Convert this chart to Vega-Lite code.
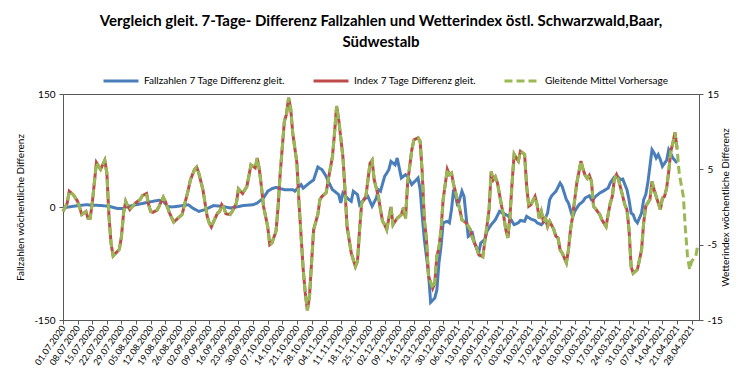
{
  "$schema": "https://vega.github.io/schema/vega-lite/v6.json",
  "width": 636,
  "height": 226,
  "autosize": {"type": "none"},
  "padding": {"left": 63, "top": 94, "right": 57, "bottom": 63},
  "background": "white",
  "config": {
    "font": "Lato",
    "view": {"stroke": "#595959", "strokeWidth": 1},
    "axis": {"grid": false, "labelColor": "#000", "titleColor": "#000", "domainColor": "#595959", "tickColor": "#595959", "labelFont": "Lato", "titleFont": "Lato", "titleFontWeight": "normal"},
    "legend": {"labelFont": "Lato", "labelColor": "#000"}
  },
  "title": {
    "text": ["Vergleich gleit. 7-Tage- Differenz Fallzahlen und Wetterindex östl. Schwarzwald,Baar,", "Südwestalb"],
    "font": "Lato", "fontSize": 15, "fontWeight": "bold", "color": "#000",
    "anchor": "middle", "frame": "group", "offset": 12, "lineHeight": 21
  },
  "datasets": {
    "fall": [
      {"d":"2020-07-01","v":-1},{"d":"2020-07-06","v":1},{"d":"2020-07-12","v":3},{"d":"2020-07-19","v":2},{"d":"2020-07-23","v":1},{"d":"2020-07-27","v":-2},{"d":"2020-07-30","v":-2},{"d":"2020-07-31","v":0},{"d":"2020-08-05","v":3},{"d":"2020-08-13","v":7.5},{"d":"2020-08-16","v":9},{"d":"2020-08-18","v":8},{"d":"2020-08-20","v":1},{"d":"2020-08-22","v":0},{"d":"2020-08-25","v":1},{"d":"2020-08-30","v":3},{"d":"2020-09-01","v":-1.3},{"d":"2020-09-04","v":-5.8},{"d":"2020-09-07","v":-3.5},{"d":"2020-09-11","v":1.8},{"d":"2020-09-15","v":1},{"d":"2020-09-19","v":-1.3},{"d":"2020-09-22","v":0},{"d":"2020-09-25","v":1.8},{"d":"2020-09-30","v":3},{"d":"2020-10-02","v":5.3},{"d":"2020-10-05","v":12},{"d":"2020-10-07","v":20.8},{"d":"2020-10-09","v":24.3},{"d":"2020-10-11","v":26},{"d":"2020-10-12","v":25},{"d":"2020-10-15","v":23},{"d":"2020-10-19","v":23},{"d":"2020-10-20","v":21},{"d":"2020-10-23","v":29.6},{"d":"2020-10-24","v":25},{"d":"2020-10-27","v":32},{"d":"2020-10-29","v":36},{"d":"2020-10-31","v":53},{"d":"2020-11-02","v":49.6},{"d":"2020-11-04","v":40.7},{"d":"2020-11-05","v":34},{"d":"2020-11-07","v":23},{"d":"2020-11-08","v":21},{"d":"2020-11-10","v":16.4},{"d":"2020-11-11","v":5.3},{"d":"2020-11-12","v":18.6},{"d":"2020-11-14","v":12},{"d":"2020-11-16","v":7.5},{"d":"2020-11-17","v":21},{"d":"2020-11-19","v":16.4},{"d":"2020-11-20","v":3},{"d":"2020-11-22","v":9.7},{"d":"2020-11-24","v":14},{"d":"2020-11-26","v":1},{"d":"2020-11-28","v":12},{"d":"2020-11-29","v":23},{"d":"2020-11-30","v":21},{"d":"2020-12-02","v":40.7},{"d":"2020-12-03","v":45},{"d":"2020-12-04","v":49.6},{"d":"2020-12-05","v":60.6},{"d":"2020-12-07","v":56},{"d":"2020-12-08","v":65},{"d":"2020-12-10","v":38.5},{"d":"2020-12-12","v":43},{"d":"2020-12-13","v":40.7},{"d":"2020-12-15","v":29.6},{"d":"2020-12-16","v":32.7},{"d":"2020-12-18","v":38.5},{"d":"2020-12-19","v":23},{"d":"2020-12-20","v":-12.4},{"d":"2020-12-21","v":-43},{"d":"2020-12-23","v":-87.6},{"d":"2020-12-24","v":-126.5},{"d":"2020-12-26","v":-121},{"d":"2020-12-27","v":-110},{"d":"2020-12-28","v":-74},{"d":"2020-12-29","v":-52},{"d":"2020-12-30","v":-21},{"d":"2021-01-01","v":-19},{"d":"2021-01-02","v":-21},{"d":"2021-01-03","v":-3.5},{"d":"2021-01-04","v":23},{"d":"2021-01-05","v":14},{"d":"2021-01-06","v":1},{"d":"2021-01-08","v":21},{"d":"2021-01-09","v":14},{"d":"2021-01-10","v":-12.4},{"d":"2021-01-11","v":-39},{"d":"2021-01-13","v":-34.5},{"d":"2021-01-14","v":-47.8},{"d":"2021-01-16","v":-61},{"d":"2021-01-17","v":-47.8},{"d":"2021-01-19","v":-43},{"d":"2021-01-20","v":-32},{"d":"2021-01-22","v":-23.5},{"d":"2021-01-24","v":-17},{"d":"2021-01-26","v":-5.8},{"d":"2021-01-28","v":-8.8},{"d":"2021-01-30","v":-11.5},{"d":"2021-01-31","v":-14.6},{"d":"2021-02-02","v":-23.5},{"d":"2021-02-04","v":-21},{"d":"2021-02-05","v":-17.7},{"d":"2021-02-07","v":-19},{"d":"2021-02-08","v":-12.4},{"d":"2021-02-10","v":-16},{"d":"2021-02-12","v":-18},{"d":"2021-02-13","v":-21},{"d":"2021-02-15","v":-23.5},{"d":"2021-02-16","v":-20.4},{"d":"2021-02-18","v":-8},{"d":"2021-02-19","v":9.7},{"d":"2021-02-20","v":15},{"d":"2021-02-22","v":20.8},{"d":"2021-02-24","v":31.9},{"d":"2021-02-25","v":27.4},{"d":"2021-02-27","v":9.7},{"d":"2021-02-28","v":5.3},{"d":"2021-03-02","v":-13.3},{"d":"2021-03-03","v":-5.8},{"d":"2021-03-05","v":3},{"d":"2021-03-07","v":7.5},{"d":"2021-03-08","v":12},{"d":"2021-03-10","v":15},{"d":"2021-03-11","v":9.7},{"d":"2021-03-12","v":10.6},{"d":"2021-03-13","v":14},{"d":"2021-03-15","v":18.6},{"d":"2021-03-17","v":21.7},{"d":"2021-03-19","v":25},{"d":"2021-03-20","v":32},{"d":"2021-03-22","v":40},{"d":"2021-03-23","v":41.6},{"d":"2021-03-25","v":36.3},{"d":"2021-03-26","v":37},{"d":"2021-03-28","v":23},{"d":"2021-03-29","v":9.7},{"d":"2021-03-30","v":-8},{"d":"2021-03-31","v":-10.2},{"d":"2021-04-01","v":-17.7},{"d":"2021-04-02","v":-21},{"d":"2021-04-04","v":-8},{"d":"2021-04-05","v":9.7},{"d":"2021-04-06","v":16.4},{"d":"2021-04-07","v":32},{"d":"2021-04-08","v":54},{"d":"2021-04-09","v":76},{"d":"2021-04-10","v":71.7},{"d":"2021-04-11","v":65},{"d":"2021-04-12","v":69.5},{"d":"2021-04-13","v":62.8},{"d":"2021-04-14","v":54},{"d":"2021-04-16","v":62},{"d":"2021-04-17","v":76},{"d":"2021-04-18","v":70.8},{"d":"2021-04-19","v":65},{"d":"2021-04-21","v":58.4}
    ],
    "idx": [
      {"d":"2020-07-01","v":-0.6},{"d":"2020-07-03","v":0.5},{"d":"2020-07-04","v":2.1},{"d":"2020-07-06","v":1.6},{"d":"2020-07-08","v":0.75},{"d":"2020-07-09","v":-0.1},{"d":"2020-07-10","v":-1.0},{"d":"2020-07-12","v":-0.6},{"d":"2020-07-13","v":-1.5},{"d":"2020-07-14","v":-1.5},{"d":"2020-07-15","v":0.5},{"d":"2020-07-16","v":3.2},{"d":"2020-07-17","v":5.9},{"d":"2020-07-19","v":5.0},{"d":"2020-07-20","v":5.6},{"d":"2020-07-21","v":6.2},{"d":"2020-07-22","v":4.5},{"d":"2020-07-23","v":-1.2},{"d":"2020-07-24","v":-4.8},{"d":"2020-07-25","v":-6.5},{"d":"2020-07-27","v":-5.9},{"d":"2020-07-28","v":-5.6},{"d":"2020-07-29","v":-3.9},{"d":"2020-07-30","v":-0.8},{"d":"2020-07-31","v":0.75},{"d":"2020-08-01","v":0.1},{"d":"2020-08-02","v":-0.35},{"d":"2020-08-04","v":0.3},{"d":"2020-08-05","v":0.6},{"d":"2020-08-07","v":1.0},{"d":"2020-08-08","v":1.5},{"d":"2020-08-10","v":1.8},{"d":"2020-08-11","v":0.3},{"d":"2020-08-12","v":-0.6},{"d":"2020-08-13","v":-0.7},{"d":"2020-08-15","v":-0.45},{"d":"2020-08-16","v":0.1},{"d":"2020-08-18","v":1.3},{"d":"2020-08-19","v":0.75},{"d":"2020-08-21","v":-0.8},{"d":"2020-08-23","v":-2.0},{"d":"2020-08-25","v":-1.5},{"d":"2020-08-27","v":-1.0},{"d":"2020-08-28","v":0.1},{"d":"2020-08-30","v":2.3},{"d":"2020-08-31","v":3.6},{"d":"2020-09-02","v":5.0},{"d":"2020-09-03","v":5.3},{"d":"2020-09-04","v":4.5},{"d":"2020-09-06","v":2.3},{"d":"2020-09-07","v":0.5},{"d":"2020-09-08","v":-1.2},{"d":"2020-09-09","v":-2.1},{"d":"2020-09-10","v":-2.65},{"d":"2020-09-11","v":-2.0},{"d":"2020-09-13","v":-0.8},{"d":"2020-09-14","v":-0.6},{"d":"2020-09-15","v":0.3},{"d":"2020-09-16","v":-0.1},{"d":"2020-09-17","v":-0.9},{"d":"2020-09-19","v":-1.0},{"d":"2020-09-20","v":-0.6},{"d":"2020-09-22","v":0.5},{"d":"2020-09-23","v":2.4},{"d":"2020-09-25","v":1.8},{"d":"2020-09-27","v":2.7},{"d":"2020-09-28","v":4.1},{"d":"2020-09-29","v":5.6},{"d":"2020-10-01","v":5.2},{"d":"2020-10-02","v":6.5},{"d":"2020-10-03","v":5.0},{"d":"2020-10-04","v":2.7},{"d":"2020-10-05","v":0.1},{"d":"2020-10-07","v":-2.6},{"d":"2020-10-08","v":-5.0},{"d":"2020-10-09","v":-4.8},{"d":"2020-10-11","v":-3.2},{"d":"2020-10-12","v":0.1},{"d":"2020-10-13","v":4.5},{"d":"2020-10-15","v":11.4},{"d":"2020-10-16","v":12.3},{"d":"2020-10-17","v":14.5},{"d":"2020-10-18","v":13.1},{"d":"2020-10-19","v":9.8},{"d":"2020-10-21","v":5.8},{"d":"2020-10-22","v":0.5},{"d":"2020-10-23","v":-3.9},{"d":"2020-10-24","v":-8.3},{"d":"2020-10-25","v":-11.4},{"d":"2020-10-26","v":-13.7},{"d":"2020-10-27","v":-11.9},{"d":"2020-10-28","v":-7.4},{"d":"2020-10-29","v":-3.0},{"d":"2020-10-31","v":-1.0},{"d":"2020-11-01","v":1.0},{"d":"2020-11-02","v":1.4},{"d":"2020-11-04","v":1.9},{"d":"2020-11-05","v":3.6},{"d":"2020-11-07","v":6.7},{"d":"2020-11-08","v":9.8},{"d":"2020-11-09","v":13.4},{"d":"2020-11-10","v":11.6},{"d":"2020-11-12","v":6.7},{"d":"2020-11-13","v":2.3},{"d":"2020-11-14","v":-2.6},{"d":"2020-11-16","v":-6.1},{"d":"2020-11-17","v":-7.0},{"d":"2020-11-18","v":-7.9},{"d":"2020-11-19","v":-7.2},{"d":"2020-11-20","v":-3.0},{"d":"2020-11-21","v":0.5},{"d":"2020-11-23","v":1.4},{"d":"2020-11-24","v":3.6},{"d":"2020-11-25","v":5.8},{"d":"2020-11-26","v":6.2},{"d":"2020-11-27","v":3.6},{"d":"2020-11-29","v":1.4},{"d":"2020-11-30","v":-0.35},{"d":"2020-12-01","v":-1.9},{"d":"2020-12-02","v":-2.35},{"d":"2020-12-03","v":-3.0},{"d":"2020-12-05","v":0.0},{"d":"2020-12-06","v":-2.35},{"d":"2020-12-07","v":-1.9},{"d":"2020-12-08","v":-1.5},{"d":"2020-12-10","v":-1.0},{"d":"2020-12-11","v":-0.1},{"d":"2020-12-12","v":-1.5},{"d":"2020-12-13","v":3.2},{"d":"2020-12-14","v":5.4},{"d":"2020-12-15","v":7.6},{"d":"2020-12-16","v":8.9},{"d":"2020-12-18","v":9.2},{"d":"2020-12-19","v":8.7},{"d":"2020-12-20","v":4.5},{"d":"2020-12-21","v":-1.7},{"d":"2020-12-22","v":-4.3},{"d":"2020-12-23","v":-9.2},{"d":"2020-12-25","v":-10.8},{"d":"2020-12-26","v":-10.1},{"d":"2020-12-27","v":-6.5},{"d":"2020-12-28","v":-5.4},{"d":"2020-12-29","v":-3.0},{"d":"2020-12-30","v":1.0},{"d":"2021-01-01","v":5.0},{"d":"2021-01-02","v":4.3},{"d":"2021-01-03","v":4.5},{"d":"2021-01-04","v":3.0},{"d":"2021-01-05","v":1.9},{"d":"2021-01-07","v":-0.35},{"d":"2021-01-08","v":-1.7},{"d":"2021-01-10","v":-2.1},{"d":"2021-01-12","v":-3.0},{"d":"2021-01-13","v":-4.1},{"d":"2021-01-15","v":-5.4},{"d":"2021-01-16","v":-6.3},{"d":"2021-01-18","v":-6.6},{"d":"2021-01-19","v":-4.5},{"d":"2021-01-20","v":-2.5},{"d":"2021-01-21","v":-0.35},{"d":"2021-01-22","v":4.7},{"d":"2021-01-23","v":3.6},{"d":"2021-01-24","v":4.0},{"d":"2021-01-25","v":3.2},{"d":"2021-01-27","v":0.1},{"d":"2021-01-28","v":-1.2},{"d":"2021-01-29","v":-3.0},{"d":"2021-01-30","v":-4.1},{"d":"2021-01-31","v":-1.2},{"d":"2021-02-01","v":3.2},{"d":"2021-02-02","v":7.0},{"d":"2021-02-03","v":6.5},{"d":"2021-02-04","v":6.1},{"d":"2021-02-05","v":7.4},{"d":"2021-02-07","v":7.0},{"d":"2021-02-08","v":2.7},{"d":"2021-02-09","v":0.1},{"d":"2021-02-10","v":0.3},{"d":"2021-02-12","v":1.4},{"d":"2021-02-13","v":0.3},{"d":"2021-02-14","v":-1.5},{"d":"2021-02-15","v":-0.6},{"d":"2021-02-16","v":-1.9},{"d":"2021-02-17","v":-1.5},{"d":"2021-02-18","v":-2.6},{"d":"2021-02-19","v":-1.9},{"d":"2021-02-21","v":-3.0},{"d":"2021-02-22","v":-3.9},{"d":"2021-02-23","v":-4.1},{"d":"2021-02-24","v":-5.7},{"d":"2021-02-25","v":-6.1},{"d":"2021-02-27","v":-7.4},{"d":"2021-02-28","v":-5.7},{"d":"2021-03-01","v":-3.0},{"d":"2021-03-02","v":-1.2},{"d":"2021-03-03","v":1.0},{"d":"2021-03-04","v":3.2},{"d":"2021-03-06","v":6.1},{"d":"2021-03-07","v":5.0},{"d":"2021-03-08","v":4.2},{"d":"2021-03-09","v":3.8},{"d":"2021-03-10","v":4.2},{"d":"2021-03-11","v":3.4},{"d":"2021-03-12","v":0.1},{"d":"2021-03-13","v":-0.25},{"d":"2021-03-15","v":-1.0},{"d":"2021-03-16","v":-1.7},{"d":"2021-03-18","v":-2.6},{"d":"2021-03-19","v":-1.0},{"d":"2021-03-20","v":0.5},{"d":"2021-03-21","v":1.4},{"d":"2021-03-22","v":3.8},{"d":"2021-03-23","v":4.3},{"d":"2021-03-24","v":3.6},{"d":"2021-03-26","v":1.4},{"d":"2021-03-27","v":0.3},{"d":"2021-03-28","v":-0.35},{"d":"2021-03-29","v":-3.0},{"d":"2021-03-30","v":-7.9},{"d":"2021-03-31","v":-8.8},{"d":"2021-04-02","v":-8.3},{"d":"2021-04-03","v":-7.0},{"d":"2021-04-04","v":-5.7},{"d":"2021-04-05","v":-2.1},{"d":"2021-04-06","v":0.1},{"d":"2021-04-08","v":1.0},{"d":"2021-04-09","v":3.4},{"d":"2021-04-10","v":2.3},{"d":"2021-04-11","v":1.4},{"d":"2021-04-13","v":-0.35},{"d":"2021-04-14","v":1.2},{"d":"2021-04-15","v":1.4},{"d":"2021-04-16","v":2.5},{"d":"2021-04-17","v":4.7},{"d":"2021-04-18","v":7.4},{"d":"2021-04-19","v":8.5},{"d":"2021-04-20","v":9.9},{"d":"2021-04-21","v":7.8}
    ],
    "fc": [
      {"d":"2020-07-01","v":-0.6},{"d":"2020-07-03","v":0.5},{"d":"2020-07-04","v":2.1},{"d":"2020-07-06","v":1.6},{"d":"2020-07-08","v":0.75},{"d":"2020-07-09","v":-0.1},{"d":"2020-07-10","v":-1.0},{"d":"2020-07-12","v":-0.6},{"d":"2020-07-13","v":-1.5},{"d":"2020-07-14","v":-1.5},{"d":"2020-07-15","v":0.5},{"d":"2020-07-16","v":3.2},{"d":"2020-07-17","v":5.9},{"d":"2020-07-19","v":5.0},{"d":"2020-07-20","v":5.6},{"d":"2020-07-21","v":6.2},{"d":"2020-07-22","v":4.5},{"d":"2020-07-23","v":-1.2},{"d":"2020-07-24","v":-4.8},{"d":"2020-07-25","v":-6.5},{"d":"2020-07-27","v":-5.9},{"d":"2020-07-28","v":-5.6},{"d":"2020-07-29","v":-3.9},{"d":"2020-07-30","v":-0.8},{"d":"2020-07-31","v":0.75},{"d":"2020-08-01","v":0.1},{"d":"2020-08-02","v":-0.35},{"d":"2020-08-04","v":0.3},{"d":"2020-08-05","v":0.6},{"d":"2020-08-07","v":1.0},{"d":"2020-08-08","v":1.5},{"d":"2020-08-10","v":1.8},{"d":"2020-08-11","v":0.3},{"d":"2020-08-12","v":-0.6},{"d":"2020-08-13","v":-0.7},{"d":"2020-08-15","v":-0.45},{"d":"2020-08-16","v":0.1},{"d":"2020-08-18","v":1.3},{"d":"2020-08-19","v":0.75},{"d":"2020-08-21","v":-0.8},{"d":"2020-08-23","v":-2.0},{"d":"2020-08-25","v":-1.5},{"d":"2020-08-27","v":-1.0},{"d":"2020-08-28","v":0.1},{"d":"2020-08-30","v":2.3},{"d":"2020-08-31","v":3.6},{"d":"2020-09-02","v":5.0},{"d":"2020-09-03","v":5.3},{"d":"2020-09-04","v":4.5},{"d":"2020-09-06","v":2.3},{"d":"2020-09-07","v":0.5},{"d":"2020-09-08","v":-1.2},{"d":"2020-09-09","v":-2.1},{"d":"2020-09-10","v":-2.65},{"d":"2020-09-11","v":-2.0},{"d":"2020-09-13","v":-0.8},{"d":"2020-09-14","v":-0.6},{"d":"2020-09-15","v":0.3},{"d":"2020-09-16","v":-0.1},{"d":"2020-09-17","v":-0.9},{"d":"2020-09-19","v":-1.0},{"d":"2020-09-20","v":-0.6},{"d":"2020-09-22","v":0.5},{"d":"2020-09-23","v":2.4},{"d":"2020-09-25","v":1.8},{"d":"2020-09-27","v":2.7},{"d":"2020-09-28","v":4.1},{"d":"2020-09-29","v":5.6},{"d":"2020-10-01","v":5.2},{"d":"2020-10-02","v":6.5},{"d":"2020-10-03","v":5.0},{"d":"2020-10-04","v":2.7},{"d":"2020-10-05","v":0.1},{"d":"2020-10-07","v":-2.6},{"d":"2020-10-08","v":-5.0},{"d":"2020-10-09","v":-4.8},{"d":"2020-10-11","v":-3.2},{"d":"2020-10-12","v":0.1},{"d":"2020-10-13","v":4.5},{"d":"2020-10-15","v":11.4},{"d":"2020-10-16","v":12.3},{"d":"2020-10-17","v":14.5},{"d":"2020-10-18","v":13.1},{"d":"2020-10-19","v":9.8},{"d":"2020-10-21","v":5.8},{"d":"2020-10-22","v":0.5},{"d":"2020-10-23","v":-3.9},{"d":"2020-10-24","v":-8.3},{"d":"2020-10-25","v":-11.4},{"d":"2020-10-26","v":-13.7},{"d":"2020-10-27","v":-11.9},{"d":"2020-10-28","v":-7.4},{"d":"2020-10-29","v":-3.0},{"d":"2020-10-31","v":-1.0},{"d":"2020-11-01","v":1.0},{"d":"2020-11-02","v":1.4},{"d":"2020-11-04","v":1.9},{"d":"2020-11-05","v":3.6},{"d":"2020-11-07","v":6.7},{"d":"2020-11-08","v":9.8},{"d":"2020-11-09","v":13.4},{"d":"2020-11-10","v":11.6},{"d":"2020-11-12","v":6.7},{"d":"2020-11-13","v":2.3},{"d":"2020-11-14","v":-2.6},{"d":"2020-11-16","v":-6.1},{"d":"2020-11-17","v":-7.0},{"d":"2020-11-18","v":-7.9},{"d":"2020-11-19","v":-7.2},{"d":"2020-11-20","v":-3.0},{"d":"2020-11-21","v":0.5},{"d":"2020-11-23","v":1.4},{"d":"2020-11-24","v":3.6},{"d":"2020-11-25","v":5.8},{"d":"2020-11-26","v":6.2},{"d":"2020-11-27","v":3.6},{"d":"2020-11-29","v":1.4},{"d":"2020-11-30","v":-0.35},{"d":"2020-12-01","v":-1.9},{"d":"2020-12-02","v":-2.35},{"d":"2020-12-03","v":-3.0},{"d":"2020-12-05","v":0.0},{"d":"2020-12-06","v":-2.35},{"d":"2020-12-07","v":-1.9},{"d":"2020-12-08","v":-1.5},{"d":"2020-12-10","v":-1.0},{"d":"2020-12-11","v":-0.1},{"d":"2020-12-12","v":-1.5},{"d":"2020-12-13","v":3.2},{"d":"2020-12-14","v":5.4},{"d":"2020-12-15","v":7.6},{"d":"2020-12-16","v":8.9},{"d":"2020-12-18","v":9.2},{"d":"2020-12-19","v":8.7},{"d":"2020-12-20","v":4.5},{"d":"2020-12-21","v":-1.7},{"d":"2020-12-22","v":-4.3},{"d":"2020-12-23","v":-9.2},{"d":"2020-12-25","v":-10.8},{"d":"2020-12-26","v":-10.1},{"d":"2020-12-27","v":-6.5},{"d":"2020-12-28","v":-5.4},{"d":"2020-12-29","v":-3.0},{"d":"2020-12-30","v":1.0},{"d":"2021-01-01","v":5.0},{"d":"2021-01-02","v":4.3},{"d":"2021-01-03","v":4.5},{"d":"2021-01-04","v":3.0},{"d":"2021-01-05","v":1.9},{"d":"2021-01-07","v":-0.35},{"d":"2021-01-08","v":-1.7},{"d":"2021-01-10","v":-2.1},{"d":"2021-01-12","v":-3.0},{"d":"2021-01-13","v":-4.1},{"d":"2021-01-15","v":-5.4},{"d":"2021-01-16","v":-6.3},{"d":"2021-01-18","v":-6.6},{"d":"2021-01-19","v":-4.5},{"d":"2021-01-20","v":-2.5},{"d":"2021-01-21","v":-0.35},{"d":"2021-01-22","v":4.7},{"d":"2021-01-23","v":3.6},{"d":"2021-01-24","v":4.0},{"d":"2021-01-25","v":3.2},{"d":"2021-01-27","v":0.1},{"d":"2021-01-28","v":-1.2},{"d":"2021-01-29","v":-3.0},{"d":"2021-01-30","v":-4.1},{"d":"2021-01-31","v":-1.2},{"d":"2021-02-01","v":3.2},{"d":"2021-02-02","v":7.0},{"d":"2021-02-03","v":6.5},{"d":"2021-02-04","v":6.1},{"d":"2021-02-05","v":7.4},{"d":"2021-02-07","v":7.0},{"d":"2021-02-08","v":2.7},{"d":"2021-02-09","v":0.1},{"d":"2021-02-10","v":0.3},{"d":"2021-02-12","v":1.4},{"d":"2021-02-13","v":0.3},{"d":"2021-02-14","v":-1.5},{"d":"2021-02-15","v":-0.6},{"d":"2021-02-16","v":-1.9},{"d":"2021-02-17","v":-1.5},{"d":"2021-02-18","v":-2.6},{"d":"2021-02-19","v":-1.9},{"d":"2021-02-21","v":-3.0},{"d":"2021-02-22","v":-3.9},{"d":"2021-02-23","v":-4.1},{"d":"2021-02-24","v":-5.7},{"d":"2021-02-25","v":-6.1},{"d":"2021-02-27","v":-7.4},{"d":"2021-02-28","v":-5.7},{"d":"2021-03-01","v":-3.0},{"d":"2021-03-02","v":-1.2},{"d":"2021-03-03","v":1.0},{"d":"2021-03-04","v":3.2},{"d":"2021-03-06","v":6.1},{"d":"2021-03-07","v":5.0},{"d":"2021-03-08","v":4.2},{"d":"2021-03-09","v":3.8},{"d":"2021-03-10","v":4.2},{"d":"2021-03-11","v":3.4},{"d":"2021-03-12","v":0.1},{"d":"2021-03-13","v":-0.25},{"d":"2021-03-15","v":-1.0},{"d":"2021-03-16","v":-1.7},{"d":"2021-03-18","v":-2.6},{"d":"2021-03-19","v":-1.0},{"d":"2021-03-20","v":0.5},{"d":"2021-03-21","v":1.4},{"d":"2021-03-22","v":3.8},{"d":"2021-03-23","v":4.3},{"d":"2021-03-24","v":3.6},{"d":"2021-03-26","v":1.4},{"d":"2021-03-27","v":0.3},{"d":"2021-03-28","v":-0.35},{"d":"2021-03-29","v":-3.0},{"d":"2021-03-30","v":-7.9},{"d":"2021-03-31","v":-8.8},{"d":"2021-04-02","v":-8.3},{"d":"2021-04-03","v":-7.0},{"d":"2021-04-04","v":-5.7},{"d":"2021-04-05","v":-2.1},{"d":"2021-04-06","v":0.1},{"d":"2021-04-08","v":1.0},{"d":"2021-04-09","v":3.4},{"d":"2021-04-10","v":2.3},{"d":"2021-04-11","v":1.4},{"d":"2021-04-13","v":-0.35},{"d":"2021-04-14","v":1.2},{"d":"2021-04-15","v":1.4},{"d":"2021-04-16","v":2.5},{"d":"2021-04-17","v":4.7},{"d":"2021-04-18","v":7.4},{"d":"2021-04-19","v":8.5},{"d":"2021-04-20","v":9.9},{"d":"2021-04-21","v":7.8},{"d":"2021-04-22","v":4.5},{"d":"2021-04-24","v":1.4},{"d":"2021-04-25","v":-3.0},{"d":"2021-04-26","v":-6.5},{"d":"2021-04-27","v":-8.3},{"d":"2021-04-28","v":-7.2},{"d":"2021-04-30","v":-6.5},{"d":"2021-05-01","v":-4.9}
    ]
  },
  "layer": [
    {
      "layer": [
        {
          "mark": {"type": "rule", "color": "#404040", "strokeWidth": 1},
          "encoding": {"y": {"datum": 0, "type": "quantitative"}}
        },
        {
          "data": {"name": "fall", "format": {"parse": {"d": "date:'%Y-%m-%d'"}}},
          "mark": {"type": "line", "strokeWidth": 3, "strokeCap": "butt"},
          "encoding": {
            "x": {
              "field": "d", "type": "temporal", "title": null,
              "scale": {"domain": [{"year": 2020, "month": 7, "date": 1}, {"year": 2021, "month": 5, "date": 1, "hours": 12}]},
              "axis": {
                "values": [
                  {"year":2020,"month":7,"date":1},{"year":2020,"month":7,"date":8},{"year":2020,"month":7,"date":15},{"year":2020,"month":7,"date":22},{"year":2020,"month":7,"date":29},
                  {"year":2020,"month":8,"date":5},{"year":2020,"month":8,"date":12},{"year":2020,"month":8,"date":19},{"year":2020,"month":8,"date":26},
                  {"year":2020,"month":9,"date":2},{"year":2020,"month":9,"date":9},{"year":2020,"month":9,"date":16},{"year":2020,"month":9,"date":23},{"year":2020,"month":9,"date":30},
                  {"year":2020,"month":10,"date":7},{"year":2020,"month":10,"date":14},{"year":2020,"month":10,"date":21},{"year":2020,"month":10,"date":28},
                  {"year":2020,"month":11,"date":4},{"year":2020,"month":11,"date":11},{"year":2020,"month":11,"date":18},{"year":2020,"month":11,"date":25},
                  {"year":2020,"month":12,"date":2},{"year":2020,"month":12,"date":9},{"year":2020,"month":12,"date":16},{"year":2020,"month":12,"date":23},{"year":2020,"month":12,"date":30},
                  {"year":2021,"month":1,"date":6},{"year":2021,"month":1,"date":13},{"year":2021,"month":1,"date":20},{"year":2021,"month":1,"date":27},
                  {"year":2021,"month":2,"date":3},{"year":2021,"month":2,"date":10},{"year":2021,"month":2,"date":17},{"year":2021,"month":2,"date":24},
                  {"year":2021,"month":3,"date":3},{"year":2021,"month":3,"date":10},{"year":2021,"month":3,"date":17},{"year":2021,"month":3,"date":24},{"year":2021,"month":3,"date":31},
                  {"year":2021,"month":4,"date":7},{"year":2021,"month":4,"date":14},{"year":2021,"month":4,"date":21},{"year":2021,"month":4,"date":28}
                ],
                "tickCount": 200,
                "format": "%d.%m.%Y", "labelAngle": -55, "labelAlign": "right", "labelBaseline": "middle",
                "labelFontSize": 9, "labelPadding": 2, "tickSize": 4, "labelOverlap": false, "labelBound": false, "labelFlush": false
              }
            },
            "y": {
              "field": "v", "type": "quantitative",
              "scale": {"domain": [-150, 150], "nice": false},
              "axis": {"values": [-150, 0, 150], "labelExpr": "datum.value", "title": "Fallzahlen wöchentliche Differenz", "labelFontSize": 10, "titleFontSize": 10, "tickSize": 4, "labelPadding": 4, "titlePadding": 8}
            },
            "color": {
              "datum": "Fallzahlen 7 Tage Differenz gleit.",
              "scale": {"domain": ["Fallzahlen 7 Tage Differenz gleit.", "Index 7 Tage Differenz gleit.", "Gleitende Mittel Vorhersage"], "range": ["#4A7EBB", "#BE4B48", "#98B954"]},
              "legend": {"title": null, "orient": "none", "legendX": 39, "legendY": -32, "direction": "horizontal", "symbolType": "stroke", "symbolSize": 1225, "symbolStrokeWidth": 3, "labelFontSize": 10, "columnPadding": 22, "labelOffset": 4}
            },
            "strokeDash": {
              "datum": "Fallzahlen 7 Tage Differenz gleit.",
              "scale": {"domain": ["Fallzahlen 7 Tage Differenz gleit.", "Index 7 Tage Differenz gleit.", "Gleitende Mittel Vorhersage"], "range": [[1, 0], [1, 0], [8, 4]]},
              "legend": {"title": null, "orient": "none", "legendX": 39, "legendY": -32, "direction": "horizontal", "symbolType": "stroke", "symbolSize": 1225, "symbolStrokeWidth": 3, "labelFontSize": 10, "columnPadding": 22, "labelOffset": 4}
            }
          }
        }
      ]
    },
    {
      "layer": [
        {
          "data": {"name": "idx", "format": {"parse": {"d": "date:'%Y-%m-%d'"}}},
          "mark": {"type": "line", "strokeWidth": 3, "strokeCap": "butt"},
          "encoding": {
            "x": {"field": "d", "type": "temporal"},
            "y": {
              "field": "v", "type": "quantitative",
              "scale": {"domain": [-15, 15], "nice": false},
              "axis": {"orient": "right", "values": [-15, -10, -5, 0, 5, 10, 15], "labelExpr": "datum.value", "title": "Wetterindex wöchentliche Differenz", "titleAngle": 270, "labelFontSize": 10, "titleFontSize": 10, "tickSize": 4, "labelPadding": 4, "titlePadding": 8}
            },
            "color": {"datum": "Index 7 Tage Differenz gleit."},
            "strokeDash": {"datum": "Index 7 Tage Differenz gleit."}
          }
        },
        {
          "data": {"name": "fc", "format": {"parse": {"d": "date:'%Y-%m-%d'"}}},
          "mark": {"type": "line", "strokeWidth": 3, "strokeCap": "butt"},
          "encoding": {
            "x": {"field": "d", "type": "temporal"},
            "y": {"field": "v", "type": "quantitative"},
            "color": {"datum": "Gleitende Mittel Vorhersage"},
            "strokeDash": {"datum": "Gleitende Mittel Vorhersage"}
          }
        }
      ]
    }
  ],
  "resolve": {"scale": {"y": "independent"}}
}
